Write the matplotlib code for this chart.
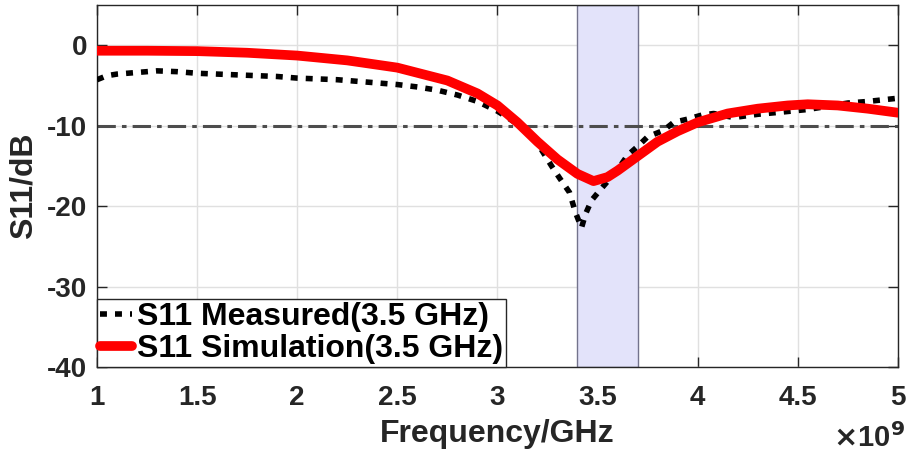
import matplotlib
matplotlib.use('Agg')
import matplotlib.pyplot as plt

# S11 data (frequency in GHz, S11 in dB)
freq_meas = [1.0, 1.05, 1.1, 1.2, 1.3, 1.4, 1.5, 1.6, 1.7, 1.8, 1.9, 2.0, 2.1, 2.2,
             2.3, 2.4, 2.5, 2.6, 2.7, 2.8, 2.9, 3.0, 3.1, 3.2, 3.27, 3.31, 3.36,
             3.39, 3.42, 3.44, 3.47, 3.52, 3.6, 3.65, 3.7, 3.75, 3.83, 3.88, 3.95,
             4.02, 4.08, 4.18, 4.3, 4.43, 4.55, 4.65, 4.75, 4.85, 5.0]
s11_meas = [-4.3, -3.8, -3.6, -3.4, -3.2, -3.3, -3.5, -3.6, -3.7, -3.8, -3.9, -4.1,
            -4.2, -4.3, -4.5, -4.7, -4.9, -5.2, -5.6, -6.2, -7.0, -8.2, -9.8, -12.2,
            -15.0, -16.5, -18.3, -20.8, -22.7, -21.0, -19.3, -17.8, -15.5, -13.7,
            -12.6, -11.4, -10.6, -9.6, -9.2, -8.7, -8.5, -9.0, -8.6, -8.3, -8.0,
            -7.6, -7.2, -7.0, -6.6]

freq_sim = [1.0, 1.25, 1.5, 1.75, 2.0, 2.25, 2.5, 2.75, 2.9, 3.0, 3.1, 3.2, 3.3,
            3.4, 3.48, 3.55, 3.6, 3.7, 3.8, 3.9, 4.0, 4.15, 4.3, 4.45, 4.55, 4.7,
            4.85, 5.0]
s11_sim = [-0.7, -0.7, -0.75, -0.95, -1.3, -1.9, -2.8, -4.4, -6.0, -7.5, -9.6,
           -12.0, -14.2, -16.0, -16.9, -16.4, -15.6, -13.8, -12.0, -10.7, -9.6,
           -8.5, -7.9, -7.5, -7.35, -7.5, -7.9, -8.4]

band = [3.4, 3.7]
threshold = -10

dark = (0.15, 0.15, 0.15)
plt.rcParams['font.family'] = ['Liberation Sans', 'DejaVu Sans']
plt.rcParams['font.weight'] = 'bold'
plt.rcParams['axes.unicode_minus'] = False

fig = plt.figure(figsize=(9.09, 4.59), dpi=100)
ax = fig.add_axes([0.1067, 0.2004, 0.881, 0.789])

ax.axvspan(band[0], band[1], facecolor=(0.89, 0.89, 0.98), edgecolor=(0.45, 0.45, 0.55),
           linewidth=1, zorder=1)
ax.axhline(threshold, color=(0.3, 0.3, 0.3), linestyle=(0, (6, 2, 1.5, 2)),
           linewidth=2.2, zorder=2)
ax.plot(freq_meas, s11_meas, color='black', linestyle=(0, (1.25, 1.45)), linewidth=4,
        label='S11 Measured(3.5 GHz)', zorder=3)
ax.plot(freq_sim, s11_sim, color='red', linewidth=7, solid_capstyle='round',
        label='S11 Simulation(3.5 GHz)', zorder=4)

ax.set_xlim(1, 5)
ax.set_ylim(-40, 5)
ax.set_xticks([1, 1.5, 2, 2.5, 3, 3.5, 4, 4.5, 5])
ax.set_xticklabels(['1', '1.5', '2', '2.5', '3', '3.5', '4', '4.5', '5'])
ax.set_yticks([-40, -30, -20, -10, 0])
ax.grid(True, color=(0.88, 0.88, 0.88), linewidth=1)
ax.set_axisbelow(True)
ax.tick_params(direction='in', length=7, width=1, top=True, right=True,
               labelsize=20, colors=dark)
ax.tick_params(axis='x', pad=13)
ax.tick_params(axis='y', pad=7)
for s in ax.spines.values():
    s.set_color(dark)
    s.set_linewidth(1)

ax.set_xlabel('Frequency/GHz', fontsize=23, fontweight='bold', color=dark, labelpad=6)
ax.set_ylabel('S11/dB', fontsize=23, fontweight='bold', color=dark, labelpad=6)
ax.text(1.009, -0.155, r'$\times$10$^{9}$', transform=ax.transAxes, ha='right', va='top',
        fontsize=21, fontweight='bold', color=dark)

leg = ax.legend(loc='lower left', fontsize=23, handlelength=1.0, handletextpad=0.15,
                borderpad=0.1, labelspacing=0.05, borderaxespad=0,
                fancybox=False, framealpha=1, edgecolor=dark)
leg.get_frame().set_linewidth(1)

fig.savefig('out.png', dpi=100)
